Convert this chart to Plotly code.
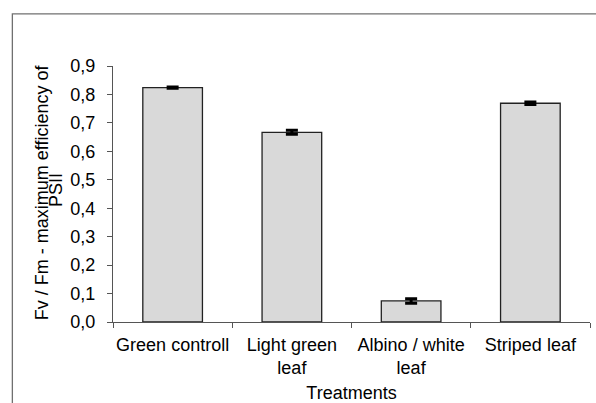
import plotly.graph_objects as go

categories = ["Green controll", "Light green<br>leaf", "Albino / white<br>leaf", "Striped leaf"]
values = [0.824, 0.667, 0.074, 0.769]
errors = [0.002, 0.007, 0.008, 0.004]
y_title_line1 = "Fv / Fm - maximum efficiency of"
y_title_line2 = "PSII"
x_title = "Treatments"

FONT = "Liberation Sans, Arial, sans-serif"
FS = 18

fig = go.Figure()
fig.add_trace(go.Bar(
    x=categories, y=values,
    marker=dict(color="#d9d9d9", line=dict(color="#222222", width=1.3)),
    error_y=dict(type="data", array=errors, visible=True, color="black",
                 thickness=3, width=6),
    width=0.5,
))

L, R, T, B = 112.7, 6, 66, 81.3
W, H = 596, 403
pw = W - L - R
ph = H - T - B

fig.update_layout(
    width=W, height=H,
    margin=dict(l=L, r=R, t=T, b=B, pad=0, autoexpand=False),
    paper_bgcolor="white", plot_bgcolor="white",
    separators=",.",
    showlegend=False,
    font=dict(family=FONT, size=FS, color="black"),
)
fig.update_xaxes(
    type="category",
    showline=True, linecolor="#555555", linewidth=1.2,
    ticks="outside", ticklen=5, tickcolor="#555555", tickwidth=1.2,
    tickson="boundaries", tickangle=0, automargin=False,
    ticklabelstandoff=6,
    showgrid=False, zeroline=False,
    tickfont=dict(family=FONT, size=FS, color="black"),
    title=dict(text=x_title, font=dict(family=FONT, size=FS, color="black"), standoff=22),
)
fig.update_yaxes(
    range=[0, 0.9], dtick=0.1, tick0=0, tickformat=".1f",
    showline=True, linecolor="#555555", linewidth=1.2,
    ticks="outside", ticklen=5, tickcolor="#555555", tickwidth=1.2,
    ticklabelstandoff=8, automargin=False,
    showgrid=False, zeroline=False,
    tickfont=dict(family=FONT, size=FS, color="black"),
)

fig.add_annotation(
    text=y_title_line1, textangle=-90, showarrow=False,
    xref="paper", yref="paper",
    x=(41.7 - L) / pw, y=(H - B - 192) / ph,
    xanchor="center", yanchor="middle",
    font=dict(family=FONT, size=FS, color="black"),
)
fig.add_annotation(
    text=y_title_line2, textangle=-90, showarrow=False,
    xref="paper", yref="paper",
    x=(55.5 - L) / pw, y=(H - B - 190) / ph,
    xanchor="center", yanchor="middle",
    font=dict(family=FONT, size=FS, color="black"),
)

fig.add_shape(
    type="rect", xref="paper", yref="paper",
    x0=(12 - L) / pw, x1=(610 - L) / pw,
    y0=-0.6, y1=(H - B - 14) / ph,
    line=dict(color="#707070", width=1.3), fillcolor="rgba(0,0,0,0)",
    layer="below",
)

fig.write_html("out.html", config={"displayModeBar": False},
               post_script="document.body.style.margin='0px';document.body.style.overflow='hidden';")
